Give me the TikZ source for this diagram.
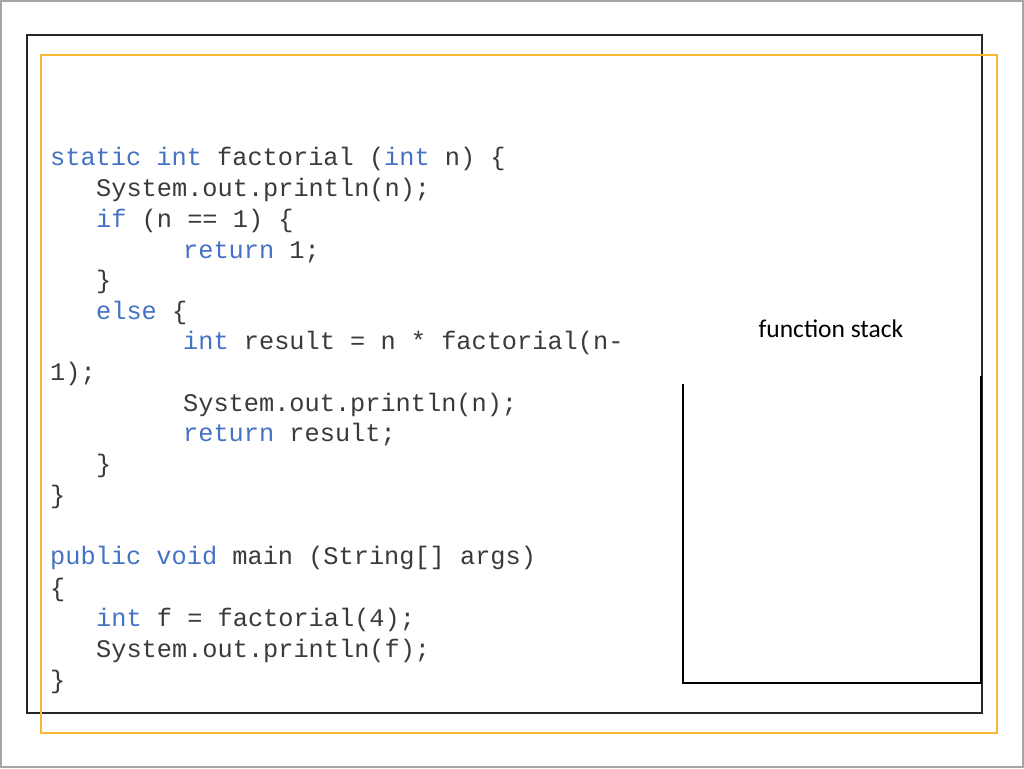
\documentclass[tikz,border=0pt]{standalone}
\usepackage{fontspec}
\setmonofont{Liberation Mono}
\newfontfamily\labfont{Carlito}
\definecolor{kw}{HTML}{4472C4}
\definecolor{tx}{HTML}{3A3A3A}
\definecolor{yel}{HTML}{F5B82E}
\newcommand{\kw}[1]{\textcolor{kw}{#1}}
\begin{document}
\begin{tikzpicture}[x=1pt,y=-1pt,
  code/.style={anchor=base west,inner sep=0pt,font=\fontsize{25.3}{30}\ttfamily,text=tx}]
\useasboundingbox (0,0) rectangle (1024,768);
\draw[gray!70,line width=1.2pt] (1,1) rectangle (1023,767);
\draw[black!85,line width=1.5pt] (27,35) rectangle (982,713);
\draw[yel,line width=2pt] (41,55) rectangle (997,733);
\node[code] (l1) at (50,165) {\kw{static} \kw{int} factorial (\kw{int} n) \{};
\node[code] (l2) at (96,196) {System.out.println(n);};
\node[code] (l3) at (96,227) {\kw{if} (n == 1) \{};
\node[code] (l4) at (183,258) {\kw{return} 1;};
\node[code] (l5) at (96,288) {\}};
\node[code] (l6) at (96,319) {\kw{else} \{};
\node[code] (l7) at (183,349) {\kw{int} result = n * factorial(n-};
\node[code] (l8) at (50,380) {1);};
\node[code] (l9) at (183,411) {System.out.println(n);};
\node[code] (l10) at (183,441) {\kw{return} result;};
\node[code] (l11) at (96,472) {\}};
\node[code] (l12) at (50,503) {\}};
\node[code] (l13) at (50,564) {\kw{public} \kw{void} main (String[] args)};
\node[code] (l14) at (50,596) {\{};
\node[code] (l15) at (96,626) {\kw{int} f = factorial(4);};
\node[code] (l16) at (96,657) {System.out.println(f);};
\node[code] (l17) at (50,688) {\}};
\node[font=\labfont\fontsize{25.5}{30}\selectfont,inner sep=0pt] (fs) at (831,329) {function stack};
\coordinate (a) at (683,384);
\coordinate (b) at (683,683);
\coordinate (c) at (981,683);
\coordinate (d) at (981,376);
\draw[black,line width=2pt] (a) -- (b) -- (c) -- (d);
\end{tikzpicture}
\end{document}
